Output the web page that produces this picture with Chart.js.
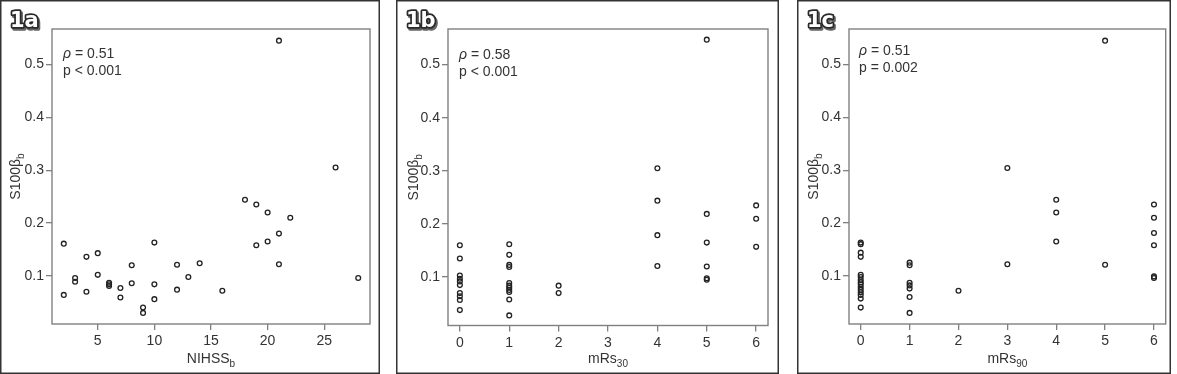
<!DOCTYPE html>
<html>
<head>
<meta charset="utf-8">
<script src="https://cdn.jsdelivr.net/npm/chart.js@4.4.1/dist/chart.umd.min.js"></script>
<style>
  body { margin: 0; background: #fff; }
  .panel { position: absolute; top: 0; }
</style>
</head>
<body>
<canvas id="chartA" class="panel" width="380" height="374" style="left:0px"></canvas>
<canvas id="chartB" class="panel" width="383" height="374" style="left:396px"></canvas>
<canvas id="chartC" class="panel" width="374" height="374" style="left:797px"></canvas>
<script>
// ---- data ----
const nihssX = [2, 2, 3, 3, 4, 4, 5, 5, 6, 6, 6, 7, 7, 8, 8, 9, 9, 10, 10, 10,
    12, 12, 13, 14, 16, 18, 19, 19, 20, 20, 21, 21, 21, 22, 26, 28];
const nihssY = [0.161, 0.064, 0.096, 0.089, 0.136, 0.070, 0.143, 0.102, 0.087, 0.084, 0.081,
    0.077, 0.059, 0.120, 0.086, 0.040, 0.030, 0.163, 0.084, 0.056, 0.121, 0.074, 0.098, 0.124,
    0.072, 0.244, 0.235, 0.158, 0.220, 0.165, 0.545, 0.180, 0.122, 0.210, 0.305, 0.096];

const mrs30X = [0, 0, 0, 0, 0, 0, 0, 0, 0, 0,
    1, 1, 1, 1, 1, 1, 1, 1, 1, 1, 1,
    2, 2, 4, 4, 4, 4, 5, 5, 5, 5, 5, 5, 6, 6, 6];
const mrs30Y = [0.160, 0.135, 0.103, 0.097, 0.092, 0.085, 0.070, 0.064, 0.057, 0.038,
    0.162, 0.142, 0.123, 0.119, 0.089, 0.084, 0.080, 0.076, 0.072, 0.058, 0.028,
    0.084, 0.070, 0.305, 0.244, 0.179, 0.121, 0.547, 0.219, 0.165, 0.120, 0.098, 0.095,
    0.235, 0.210, 0.157];

const mrs90X = [0, 0, 0, 0, 0, 0, 0, 0, 0, 0, 0, 0, 0, 0, 0,
    1, 1, 1, 1, 1, 1, 1, 2, 3, 3, 4, 4, 4, 5, 5, 6, 6, 6, 6, 6, 6];
const mrs90Y = [0.163, 0.160, 0.144, 0.136, 0.102, 0.098, 0.092, 0.088, 0.084, 0.079, 0.074,
    0.069, 0.064, 0.057, 0.040,
    0.125, 0.120, 0.087, 0.082, 0.076, 0.060, 0.030,
    0.072, 0.304, 0.122, 0.244, 0.220, 0.165, 0.545, 0.121,
    0.235, 0.210, 0.181, 0.158, 0.099, 0.096];

const yTicks = [0.1, 0.2, 0.3, 0.4, 0.5];
const nihssTicks = [5, 10, 15, 20, 25];
const mrsTicks = [0, 1, 2, 3, 4, 5, 6];

const FONT = '"Liberation Sans", Arial, sans-serif';
const INK = '#333';
const BOX = '#808080';

// draws frame, plot box, panel tag, stats text and axis titles (with subscripts)
const panelDecor = {
    id: 'panelDecor',
    afterDraw(chart, args, o) {
        const ctx = chart.ctx;
        const a = chart.chartArea;
        const W = chart.width, H = chart.height;
        ctx.save();
        // outer frame
        ctx.strokeStyle = '#333';
        ctx.lineWidth = 1.5;
        ctx.strokeRect(0.75, 0.75, W - 1.5, H - 1.5);
        // plot box
        ctx.strokeStyle = BOX;
        ctx.lineWidth = 1.4;
        ctx.strokeRect(a.left, a.top, a.right - a.left, a.bottom - a.top);

        // panel tag
        ctx.font = 'bold 21px "DejaVu Sans", sans-serif';
        ctx.textBaseline = 'alphabetic';
        ctx.lineJoin = 'round';
        ctx.shadowColor = '#666';
        ctx.shadowOffsetX = 1.5;
        ctx.shadowOffsetY = 1.5;
        ctx.lineWidth = 3.5;
        ctx.strokeStyle = '#2a2a2a';
        ctx.strokeText(o.tag, 10, 27);
        ctx.shadowColor = 'transparent';
        ctx.fillStyle = '#fff';
        ctx.fillText(o.tag, 10, 27);

        // stats
        ctx.fillStyle = INK;
        ctx.textAlign = 'left';
        const sx = a.left + o.statDx;
        ctx.font = 'italic 14px ' + FONT;
        ctx.fillText('ρ', sx, a.top + o.statDy);
        const rw = ctx.measureText('ρ').width;
        ctx.font = '14px ' + FONT;
        ctx.fillText(' = ' + o.rho, sx + rw, a.top + o.statDy);
        ctx.fillText(o.p, sx, a.top + o.statDy + 17);

        // x title
        drawSub(ctx, o.xTitle[0], o.xTitle[1], (a.left + a.right) / 2, o.xTitleY);
        // y title (rotated)
        ctx.translate(o.yTitleX, (a.top + a.bottom) / 2);
        ctx.rotate(-Math.PI / 2);
        drawSub(ctx, 'S100β', 'b', 0, 0);
        ctx.restore();
    }
};

function drawSub(ctx, main, sub, cx, y) {
    ctx.font = '14px ' + FONT;
    const mw = ctx.measureText(main).width;
    ctx.font = '10px ' + FONT;
    const sw = ctx.measureText(sub).width;
    const x0 = cx - (mw + sw) / 2;
    ctx.fillStyle = INK;
    ctx.textAlign = 'left';
    ctx.font = '14px ' + FONT;
    ctx.fillText(main, x0, y);
    ctx.font = '10px ' + FONT;
    ctx.fillText(sub, x0 + mw, y + 4);
}

function makeChart(id, xs, ys, cfg) {
    const pts = xs.map((x, i) => ({ x: x, y: ys[i] }));
    return new Chart(document.getElementById(id), {
        type: 'scatter',
        data: {
            datasets: [{
                data: pts,
                pointStyle: 'circle',
                pointRadius: 2.4,
                pointBorderWidth: 1.3,
                pointBorderColor: '#222',
                pointBackgroundColor: 'rgba(0,0,0,0)'
            }]
        },
        options: {
            responsive: false,
            animation: false,
            layout: { padding: { top: 29, right: cfg.padRight, left: 0, bottom: 0 } },
            plugins: {
                legend: { display: false },
                tooltip: { enabled: false },
                panelDecor: cfg.decor
            },
            scales: {
                x: {
                    type: 'linear',
                    min: cfg.xMin,
                    max: cfg.xMax,
                    afterBuildTicks: s => { s.ticks = cfg.xTicks.map(v => ({ value: v })); },
                    afterFit: s => { s.height = cfg.xHeight; },
                    border: { display: false },
                    grid: { drawOnChartArea: false, drawTicks: true, tickLength: 6, color: BOX, lineWidth: 1.3 },
                    ticks: { color: INK, font: { family: FONT, size: 14 }, padding: 3, maxRotation: 0, callback: v => String(v) }
                },
                y: {
                    type: 'linear',
                    min: 0.009,
                    max: 0.567,
                    afterBuildTicks: s => { s.ticks = yTicks.map(v => ({ value: v })); },
                    afterFit: s => { s.width = 52; },
                    border: { display: false },
                    grid: { drawOnChartArea: false, drawTicks: true, tickLength: 6, color: BOX, lineWidth: 1.3 },
                    ticks: { color: INK, font: { family: FONT, size: 14 }, padding: 2, callback: v => v.toFixed(1) }
                }
            }
        },
        plugins: [panelDecor]
    });
}

makeChart('chartA', nihssX, nihssY, {
    xMin: 0.96, xMax: 29.04, xTicks: nihssTicks, xHeight: 50, padRight: 10,
    decor: { tag: '1a', rho: '0.51', p: 'p < 0.001', statDx: 11, statDy: 28.5,
        xTitle: ['NIHSS', 'b'], xTitleY: 363, yTitleX: 20 }
});
makeChart('chartB', mrs30X, mrs30Y, {
    xMin: -0.24, xMax: 6.24, xTicks: mrsTicks, xHeight: 48.5, padRight: 11,
    decor: { tag: '1b', rho: '0.58', p: 'p < 0.001', statDx: 11, statDy: 30,
        xTitle: ['mRs', '30'], xTitleY: 363, yTitleX: 22 }
});
makeChart('chartC', mrs90X, mrs90Y, {
    xMin: -0.24, xMax: 6.24, xTicks: mrsTicks, xHeight: 50, padRight: 4,
    decor: { tag: '1c', rho: '0.51', p: 'p = 0.002', statDx: 10, statDy: 25.5,
        xTitle: ['mRs', '90'], xTitleY: 363, yTitleX: 21 }
});
</script>
</body>
</html>
